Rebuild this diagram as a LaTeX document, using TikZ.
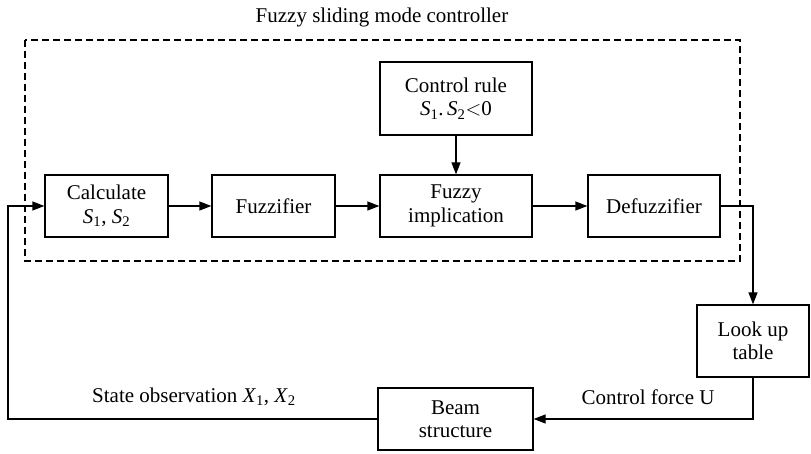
\documentclass[tikz,border=0pt]{standalone}
\usepackage{fontspec}
\setmainfont{Liberation Serif}
\usetikzlibrary{arrows.meta,positioning}

\newcommand{\var}[2]{\textit{#1}\textsubscript{#2}}

\begin{document}
\begin{tikzpicture}[x=1pt, y=-1pt,
    font=\fontsize{21}{23.5}\selectfont,
    block/.style={draw, line width=1.3pt, align=center, inner sep=0pt},
    link/.style={line width=1.3pt, -{Triangle[length=12pt,width=9pt]}}]

    \useasboundingbox (0,0) rectangle (811,454);

    % Draw the controller frame
    \draw[line width=1.2pt, dash pattern=on 7pt off 4pt] (25,40) rectangle (740,261);
    \node (title) at (382,17) {Fuzzy sliding mode controller};

    % Blocks inside the controller
    \node[block, minimum width=123pt, minimum height=62pt] (calc) at (106.5,206) {Calculate\\\var{S}{1}, \var{S}{2}};
    \node[block, minimum width=123pt, minimum height=62pt] (fuzz) at (273.5,206) {Fuzzifier};
    \node[block, minimum width=152pt, minimum height=62pt] (impl) at (456,206) {Fuzzy\\implication};
    \node[block, minimum width=152pt, minimum height=73pt] (rule) at (456,98.5) {Control rule\\\var{S}{1}.\,\var{S}{2}$<$0};
    \node[block, minimum width=132pt, minimum height=62pt] (defuzz) at (654,206) {Defuzzifier};

    % Blocks outside
    \node[block, minimum width=112pt, minimum height=72pt] (lut) at (753,341) {Look up\\table};
    \node[block, minimum width=155pt, minimum height=62pt] (beam) at (455.5,419) {Beam\\structure};

    % Draw connections
    \draw[link] (calc.east) -- (fuzz.west);
    \draw[link] (fuzz.east) -- (impl.west);
    \draw[link] (impl.east) -- (defuzz.west);
    \draw[link] (rule) -- (impl);
    \draw[link] (defuzz.east) -| (lut.north);
    \draw[link] (lut.south) |- (beam.east);

    % Feedback path
    \coordinate (back) at (8,419);
    \draw[link] (beam.west) -- (back) |- (calc.west);

    \node (obs) at (194,397) {State observation \var{X}{1}, \var{X}{2}};
    \node (force) at (648,397) {Control force U};

\end{tikzpicture}
\end{document}
